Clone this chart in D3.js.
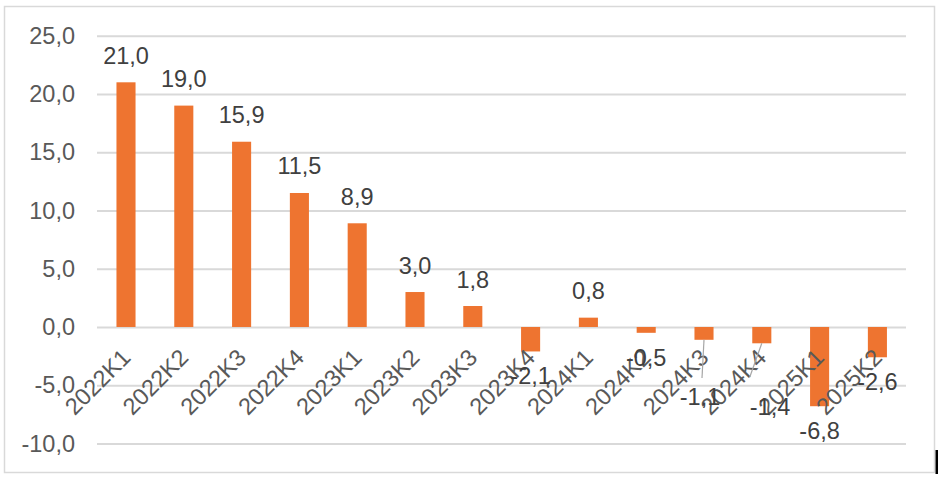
<!DOCTYPE html>
<html>
<head>
<meta charset="utf-8">
<script src="https://cdn.jsdelivr.net/npm/d3@7"></script>
<style>
  html, body { margin: 0; padding: 0; background: #fff; }
  svg { display: block; }
  text { font-family: "Liberation Sans", Arial, sans-serif; }
</style>
</head>
<body>
<svg id="chart" width="942" height="480"></svg>
<script>
const categories = ["2022K1","2022K2","2022K3","2022K4","2023K1","2023K2","2023K3","2023K4","2024K1","2024K2","2024K3","2024K4","2025K1","2025K2"];
const values = [21.0, 19.0, 15.9, 11.5, 8.9, 3.0, 1.8, -2.1, 0.8, -0.5, -1.1, -1.4, -6.8, -2.6];
const yTicks = [-10, -5, 0, 5, 10, 15, 20, 25];

const svg = d3.select("#chart");
const fmt = v => d3.format(".1f")(v).replace(".", ",").replace("−", "-");

// outer frame
svg.append("rect").attr("x", 4.5).attr("y", 6.5).attr("width", 930).attr("height", 466)
  .attr("fill", "#fff").attr("stroke", "#d9d9d9").attr("stroke-width", 1.5);
svg.append("rect").attr("x", 935.5).attr("y", 450).attr("width", 2.5).attr("height", 24).attr("fill", "#000");

const x = d3.scaleBand().domain(categories).range([97.1, 906.3]).paddingInner(0.67).paddingOuter(0.335);
const y = d3.scaleLinear().domain([-10, 25]).range([443.5, 35.7]);

// gridlines + y labels
const yAxis = d3.axisLeft(y).tickValues(yTicks).tickSize(-(906 - 97)).tickFormat(fmt).tickPadding(22);
const gy = svg.append("g").attr("transform", "translate(97,0)").call(yAxis);
gy.select(".domain").remove();
gy.selectAll(".tick line").attr("stroke", "#d9d9d9").attr("stroke-width", 2);
gy.selectAll(".tick text").attr("fill", "#595959").style("font-size", "23.5px")
  .attr("font-family", "'Liberation Sans', Arial, sans-serif");

// bars
svg.append("g").selectAll("rect").data(values).join("rect")
  .attr("x", (d, i) => x(categories[i]))
  .attr("width", x.bandwidth())
  .attr("y", d => y(Math.max(0, d)))
  .attr("height", d => Math.abs(y(d) - y(0)))
  .attr("fill", "#EE7430");

// x labels rotated
const cx = c => x(c) + x.bandwidth() / 2;
svg.append("g").selectAll("text").data(categories).join("text")
  .attr("transform", c => `translate(${cx(c) + 6},${y(0) + 32}) rotate(-45)`)
  .attr("text-anchor", "end")
  .attr("fill", "#595959").style("font-size", "23.5px")
  .text(c => c);

// leader-line labels (moved by hand in the original)
const moved = { "2024K3": { lx: 700, ly: 405, l: [340, 378, -2] }, "2024K4": { lx: 770, ly: 415, l: [343, 377, -12] } };

svg.append("g").selectAll("line").data(categories.filter(c => moved[c])).join("line")
  .attr("x1", c => cx(c)).attr("y1", c => y(values[categories.indexOf(c)]))
  .attr("x2", c => cx(c) + moved[c].l[2]).attr("y2", c => moved[c].l[1])
  .attr("stroke", "#a6a6a6").attr("stroke-width", 1.2);

// data labels
svg.append("g").selectAll("text").data(values).join("text")
  .attr("x", (d, i) => moved[categories[i]] ? moved[categories[i]].lx : cx(categories[i]))
  .attr("y", (d, i) => moved[categories[i]] ? moved[categories[i]].ly : (d >= 0 ? y(d) - 18.5 : y(d) + 33))
  .attr("text-anchor", "middle")
  .attr("fill", "#404040").style("font-size", "23.5px")
  .text(d => fmt(d));
</script>
</body>
</html>
